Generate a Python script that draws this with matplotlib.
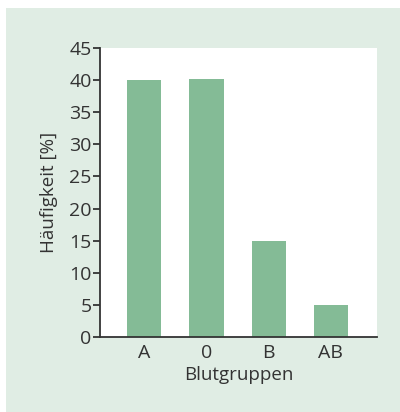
import matplotlib
matplotlib.use("Agg")
import matplotlib.pyplot as plt
from matplotlib.patches import Rectangle

# data
groups = ["A", "0", "B", "AB"]
freq = [40.0, 40.1, 15.0, 5.0]
yticks = [0, 5, 10, 15, 20, 25, 30, 35, 40, 45]

BAR = "#84bb96"
PANEL = "#e0ede4"
TEXT = "#333333"

plt.rcParams["font.family"] = ["Open Sans", "DejaVu Sans"]
plt.rcParams["font.stretch"] = "semi-condensed"
plt.rcParams["font.weight"] = "normal"

fig = plt.figure(figsize=(4.0, 4.12), dpi=100, facecolor="white")
fig.patches.append(Rectangle((6 / 400, 0), 1 - 6 / 400, 1 - 8 / 412,
                             transform=fig.transFigure, facecolor=PANEL,
                             edgecolor="none", zorder=-10))

ax = fig.add_axes([0.25, 0.182, 0.6925, 0.7015])
ax.set_facecolor("white")

x = list(range(len(groups)))
ax.bar(x, freq, width=0.55, color=BAR, zorder=2)

ax.set_xlim(-0.71, 3.74)
ax.set_ylim(0, 45)
ax.set_yticks(yticks)
ax.set_xticks(x)
ax.set_xticklabels(groups)

for s in ["top", "right"]:
    ax.spines[s].set_visible(False)
for s in ["left", "bottom"]:
    ax.spines[s].set_color("#333333")
    ax.spines[s].set_linewidth(1.3)

ax.tick_params(axis="y", direction="out", length=5, width=1.3, colors=TEXT,
               labelsize=14, pad=1)
ax.tick_params(axis="x", length=0, colors=TEXT, labelsize=14, pad=5)

ax.set_ylabel("Häufigkeit [%]", fontsize=13.5, color=TEXT, labelpad=8)
ax.set_xlabel("Blutgruppen", fontsize=13.5, color=TEXT, labelpad=3)

fig.savefig("out.png", dpi=100, facecolor=fig.get_facecolor())
